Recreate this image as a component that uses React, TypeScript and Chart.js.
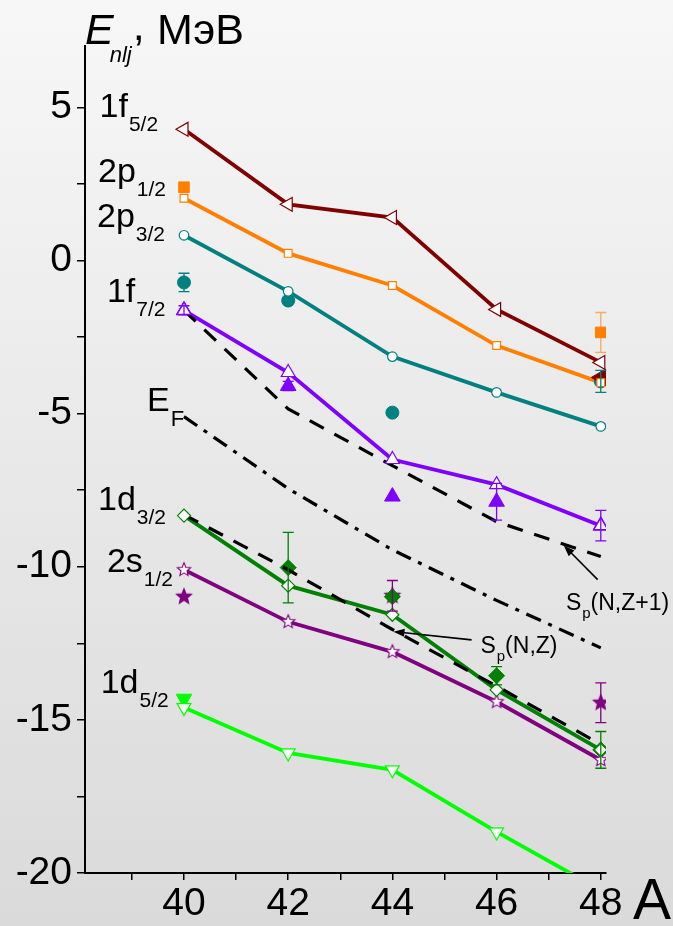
import React, { useEffect, useRef } from 'react';
import { Chart, registerables } from 'chart.js';

Chart.register(...registerables);

// ---------- data ----------
const MASS = [40, 42, 44, 46, 48];

// theoretical single-particle energies (MeV)
const F52 = [4.28, 1.83, 1.4, -1.6, -3.33];
const P12 = [2.03, 0.23, -0.82, -2.78, -3.99];
const P32 = [0.82, -1.01, -3.14, -4.31, -5.42];
const F72 = [-1.63, -3.66, -6.5, -7.32, -8.66];
const D32 = [-8.33, -10.62, -11.57, -14.02, -15.98];
const S12 = [-10.1, -11.8, -12.78, -14.41, -16.31];
const D52 = [-14.6, -16.08, -16.63, -18.66, -20.56];

// Fermi energy and separation energies
const EF = [-5.1, -7.45, -9.45, -11.1, -12.65];
const SP_NZ1 = [-1.63, -4.85, -6.7, -8.53, -9.67];
const SP_NZ = [-8.3, -10.1, -12.05, -13.9, -15.8];

// experimental values: mass numbers, energies, errors
const F52_EXP_A = [48];
const F52_EXP = [-3.82];
const F52_EXP_ERR = [0];

const P12_EXP_A = [40, 48];
const P12_EXP = [2.39, -2.35];
const P12_EXP_ERR = [0, 0.65];

const P32_EXP_A = [40, 42, 44, 48];
const P32_EXP = [-0.72, -1.31, -4.97, -3.95];
const P32_EXP_ERR = [0.3, 0, 0, 0.36];

const F72_EXP_A = [40, 42, 44, 46, 48];
const F72_EXP = [-1.63, -4.1, -7.71, -7.88, -8.66];
const F72_EXP_ERR = [0.15, 0.15, 0, 0.6, 0.5];

const D32_EXP_A = [42, 44, 46, 48];
const D32_EXP = [-10.03, -10.98, -13.56, -15.98];
const D32_EXP_ERR = [1.15, 0, 0.3, 0.6];

const S12_EXP_A = [40, 44, 48];
const S12_EXP = [-10.98, -10.95, -14.44];
const S12_EXP_ERR = [0, 0.5, 0.65];

const D52_EXP_A = [40];
const D52_EXP = [-14.31];
const D52_EXP_ERR = [0];

// axis
const X_MIN = 38.1;
const X_MAX = 48.1;
const Y_MIN = -20;
const Y_MAX = 7;
const X_TICKS = [39, 40, 41, 42, 43, 44, 45, 46, 47, 48];
const X_LABELS = [40, 42, 44, 46, 48];
const Y_TICKS = [-20, -17.5, -15, -12.5, -10, -7.5, -5, -2.5, 0, 2.5, 5];
const Y_LABELS = [-20, -15, -10, -5, 0, 5];

// level labels: [main, sub, A, E]
const LEVEL_LABELS: [string, string, number, number][] = [
  ['1f', '5/2', 38.38, 4.67],
  ['2p', '1/2', 38.35, 2.55],
  ['2p', '3/2', 38.33, 1.08],
  ['1f', '7/2', 38.52, -1.37],
  ['E', 'F', 39.29, -4.93],
  ['1d', '3/2', 38.35, -8.14],
  ['2s', '1/2', 38.52, -10.16],
  ['1d', '5/2', 38.4, -14.12],
];

// ---------- styles ----------
const FONT = '"Liberation Sans", Arial, sans-serif';
const C_F52 = '#800000';
const C_P12 = '#ff8000';
const C_P32 = '#008080';
const C_F72 = '#8000ff';
const C_D32 = '#008000';
const C_S12 = '#800080';
const C_D52 = '#00ff00';

function pts(xs: number[], ys: number[]) {
  return xs.map((x, i) => ({ x, y: ys[i] }));
}

function makeStar(color: string, filled: boolean, r: number) {
  const c = document.createElement('canvas');
  const size = Math.ceil(r * 2 + 4);
  c.width = size;
  c.height = size;
  const ctx = c.getContext('2d')!;
  ctx.beginPath();
  for (let i = 0; i < 10; i++) {
    const rr = i % 2 === 0 ? r : r * 0.45;
    const a = -Math.PI / 2 + (i * Math.PI) / 5;
    ctx.lineTo(size / 2 + rr * Math.cos(a), size / 2 + rr * Math.sin(a));
  }
  ctx.closePath();
  ctx.fillStyle = filled ? color : '#ffffff';
  ctx.fill();
  ctx.strokeStyle = color;
  ctx.lineWidth = 1.1;
  ctx.stroke();
  return c;
}

const bgPlugin = {
  id: 'bg',
  beforeDraw(chart: any) {
    const { ctx, width, height } = chart;
    const g = ctx.createLinearGradient(0, 0, 0, height);
    g.addColorStop(0, '#f7f7f7');
    g.addColorStop(1, '#dadada');
    ctx.save();
    ctx.fillStyle = g;
    ctx.fillRect(0, 0, width, height);
    ctx.restore();
  },
};

const errPlugin = {
  id: 'errbars',
  afterDatasetsDraw(chart: any) {
    const { ctx } = chart;
    const ys = chart.scales.y;
    const xs = chart.scales.x;
    chart.data.datasets.forEach((ds: any) => {
      if (!ds.errorBars) return;
      ds.data.forEach((p: any, i: number) => {
        const e = ds.errorBars[i];
        if (!e) return;
        const px = xs.getPixelForValue(p.x);
        const y1 = ys.getPixelForValue(p.y + e);
        const y2 = ys.getPixelForValue(p.y - e);
        ctx.save();
        ctx.strokeStyle = ds.errorColor;
        ctx.lineWidth = 1.3;
        ctx.beginPath();
        ctx.moveTo(px, y1);
        ctx.lineTo(px, y2);
        ctx.moveTo(px - 5.5, y1);
        ctx.lineTo(px + 5.5, y1);
        ctx.moveTo(px - 5.5, y2);
        ctx.lineTo(px + 5.5, y2);
        ctx.stroke();
        ctx.restore();
      });
    });
  },
};

function drawSub(ctx: any, main: string, sub: string, x: number, y: number, mainSize: number, subSize: number, dy: number, italic = false) {
  ctx.font = `${italic ? 'italic ' : ''}${mainSize}px ${FONT}`;
  ctx.fillText(main, x, y);
  const w = ctx.measureText(main).width;
  ctx.font = `${italic ? 'italic ' : ''}${subSize}px ${FONT}`;
  ctx.fillText(sub, x + w + 1, y + dy);
  return x + w + 1 + ctx.measureText(sub).width;
}

function drawArrow(ctx: any, x1: number, y1: number, x2: number, y2: number) {
  const ang = Math.atan2(y2 - y1, x2 - x1);
  const L = 11;
  const W = 4;
  ctx.save();
  ctx.strokeStyle = '#000';
  ctx.fillStyle = '#000';
  ctx.lineWidth = 1.6;
  ctx.beginPath();
  ctx.moveTo(x1, y1);
  ctx.lineTo(x2 - Math.cos(ang) * L * 0.8, y2 - Math.sin(ang) * L * 0.8);
  ctx.stroke();
  ctx.beginPath();
  ctx.moveTo(x2, y2);
  ctx.lineTo(x2 - Math.cos(ang) * L - Math.sin(ang) * W, y2 - Math.sin(ang) * L + Math.cos(ang) * W);
  ctx.lineTo(x2 - Math.cos(ang) * L + Math.sin(ang) * W, y2 - Math.sin(ang) * L - Math.cos(ang) * W);
  ctx.closePath();
  ctx.fill();
  ctx.restore();
}

const textPlugin = {
  id: 'texts',
  afterDraw(chart: any) {
    const { ctx, chartArea } = chart;
    const xs = chart.scales.x;
    const ys = chart.scales.y;
    ctx.save();
    ctx.fillStyle = '#000';
    ctx.textBaseline = 'alphabetic';
    ctx.textAlign = 'left';

    LEVEL_LABELS.forEach(([m, s, a, e]) => {
      const px = xs.getPixelForValue(a);
      const py = ys.getPixelForValue(e);
      if (m === 'E') drawSub(ctx, m, s, px, py, 34, 22, 15);
      else drawSub(ctx, m, s, px, py, 34, 21, 14);
    });

    // title
    const tx = chartArea.left;
    const ty = chartArea.top - 2;
    ctx.font = `italic 43px ${FONT}`;
    ctx.fillText('E', tx, ty);
    const w = ctx.measureText('E').width;
    ctx.font = `italic 22px ${FONT}`;
    ctx.fillText('nlj', tx + w - 4, ty + 18);
    const w2 = ctx.measureText('nlj').width;
    ctx.font = `43px ${FONT}`;
    ctx.fillText(',', tx + w - 4 + w2 + 1, ty - 4);
    ctx.fillText('МэВ', tx + 72, ty);

    // axis name A
    ctx.font = `57px ${FONT}`;
    ctx.fillText('A', chartArea.right + 27, chart.height - 7);

    // separation energy annotations
    const s1x = xs.getPixelForValue(47.33);
    const s1y = ys.getPixelForValue(-11.4);
    let end = drawSub(ctx, 'S', 'p', s1x, s1y, 23, 15, 8);
    ctx.font = `23px ${FONT}`;
    ctx.fillText('(N,Z+1)', end, s1y);
    drawArrow(ctx, xs.getPixelForValue(47.94), ys.getPixelForValue(-10.42), xs.getPixelForValue(47.29), ys.getPixelForValue(-9.31));

    const s2x = xs.getPixelForValue(45.69);
    const s2y = ys.getPixelForValue(-12.81);
    end = drawSub(ctx, 'S', 'p', s2x, s2y, 23, 15, 8);
    ctx.font = `23px ${FONT}`;
    ctx.fillText('(N,Z)', end, s2y);
    drawArrow(ctx, xs.getPixelForValue(45.52), ys.getPixelForValue(-12.39), xs.getPixelForValue(44.02), ys.getPixelForValue(-12.12));
    ctx.restore();
  },
};

export default function App() {
  const ref = useRef<HTMLCanvasElement>(null);
  useEffect(() => {
    if (!ref.current) return;
    const starOpen = makeStar(C_S12, false, 7);
    const starFilled = makeStar(C_S12, true, 8);

    const line = (data: number[], color: string) => ({
      data: pts(MASS, data),
      showLine: true,
      borderColor: color,
      borderWidth: 3.8,
      pointRadius: 0,
      order: 5,
    });
    const marks = (data: number[], color: string, style: any, radius: number, rotation = 0) => ({
      data: pts(MASS, data),
      showLine: false,
      borderColor: color,
      backgroundColor: '#ffffff',
      pointBorderColor: color,
      pointBackgroundColor: '#ffffff',
      pointBorderWidth: 1.2,
      pointStyle: style,
      pointRadius: radius,
      pointRotation: rotation,
      order: 1,
    });
    const exp = (xsA: number[], data: number[], errs: number[], color: string, style: any, radius: number, rotation = 0, errColor = color) => ({
      data: pts(xsA, data),
      showLine: false,
      borderColor: color,
      backgroundColor: color,
      pointBorderColor: color,
      pointBackgroundColor: color,
      pointBorderWidth: 1,
      pointStyle: style,
      pointRadius: radius,
      pointRotation: rotation,
      errorBars: errs,
      errorColor: errColor,
      order: 3,
    });
    const dashed = (data: number[], dash: number[]) => ({
      data: pts(MASS, data),
      showLine: true,
      borderColor: '#000000',
      borderWidth: 3.2,
      borderDash: dash,
      pointRadius: 0,
      order: 2,
    });

    const chart = new Chart(ref.current, {
      type: 'scatter',
      data: {
        datasets: [
          line(F52, C_F52),
          line(P12, C_P12),
          line(P32, C_P32),
          line(F72, C_F72),
          line(D32, C_D32),
          line(S12, C_S12),
          line(D52, C_D52),
          dashed(SP_NZ1, [16, 12]),
          dashed(SP_NZ, [16, 12]),
          dashed(EF, [16, 8, 4, 8]),
          exp(F52_EXP_A, F52_EXP, F52_EXP_ERR, C_F52, 'triangle', 9.5, -90),
          exp(P12_EXP_A, P12_EXP, P12_EXP_ERR, C_P12, 'rect', 7.5, 0, 'rgba(255,128,0,0.6)'),
          exp(P32_EXP_A, P32_EXP, P32_EXP_ERR, C_P32, 'circle', 6.5),
          exp(F72_EXP_A, F72_EXP, F72_EXP_ERR, C_F72, 'triangle', 9),
          exp(D32_EXP_A, D32_EXP, D32_EXP_ERR, C_D32, 'rectRot', 8),
          exp(S12_EXP_A, S12_EXP, S12_EXP_ERR, C_S12, starFilled, 8),
          exp(D52_EXP_A, D52_EXP, D52_EXP_ERR, C_D52, 'triangle', 9, 180),
          marks(F52, C_F52, 'triangle', 8, -90),
          marks(P12, C_P12, 'rect', 5.5),
          marks(P32, C_P32, 'circle', 4.8),
          marks(F72, C_F72, 'triangle', 8),
          marks(D32, C_D32, 'rectRot', 6.5),
          marks(S12, C_S12, starOpen, 7),
          marks(D52, C_D52, 'triangle', 8, 180),
        ] as any,
      },
      options: {
        animation: false,
        responsive: false,
        events: [],
        layout: { padding: { top: 46, right: 67, left: 0, bottom: 0 } },
        plugins: { legend: { display: false }, tooltip: { enabled: false } },
        scales: {
          x: {
            type: 'linear',
            min: X_MIN,
            max: X_MAX,
            afterFit: (s: any) => {
              s.height = 53;
            },
            afterBuildTicks: (s: any) => {
              s.ticks = X_TICKS.map((v) => ({ value: v }));
            },
            border: { display: true, color: '#000', width: 2 },
            grid: { drawOnChartArea: false, drawTicks: true, tickLength: 7, color: '#000', lineWidth: 1.5 },
            ticks: {
              color: '#000',
              padding: 1,
              maxRotation: 0,
              autoSkip: false,
              font: { family: FONT, size: 39 },
              callback: (v: any) => (X_LABELS.includes(Number(v)) ? String(v) : ''),
            },
          },
          y: {
            type: 'linear',
            min: Y_MIN,
            max: Y_MAX,
            afterFit: (s: any) => {
              s.width = 85;
            },
            afterBuildTicks: (s: any) => {
              s.ticks = Y_TICKS.map((v) => ({ value: v }));
            },
            border: { display: true, color: '#000', width: 2 },
            grid: { drawOnChartArea: false, drawTicks: true, tickLength: 8, color: '#000', lineWidth: 1.5 },
            ticks: {
              color: '#000',
              padding: 5,
              autoSkip: false,
              font: { family: FONT, size: 39 },
              callback: (v: any) => (Y_LABELS.includes(Number(v)) ? String(v) : ''),
            },
          },
        },
      },
      plugins: [bgPlugin, errPlugin, textPlugin],
    });
    return () => chart.destroy();
  }, []);

  return (
    <div style={{ position: 'absolute', left: 0, top: 0, width: 673, height: 926 }}>
      <canvas ref={ref} width={673} height={926} style={{ display: 'block', width: 673, height: 926 }} />
    </div>
  );
}
